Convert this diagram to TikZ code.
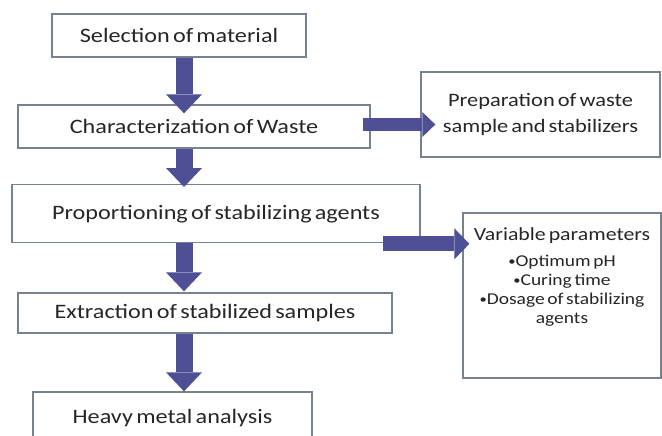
\documentclass[tikz,border=0pt]{standalone}
\usepackage{fontspec}
\usepackage{graphicx}
\setmainfont[FakeStretch=1.18,WordSpace=0.6]{Carlito}
\usetikzlibrary{arrows.meta,calc}
\definecolor{arrowc}{RGB}{78,79,148}
\definecolor{boxc}{RGB}{118,130,142}
\definecolor{txt}{RGB}{38,38,38}
\newcommand{\mainsz}{\fontsize{20.5}{24}\selectfont}
\newcommand{\sidesz}{\fontsize{19}{26}\selectfont}
\newcommand{\titlesz}{\fontsize{18.5}{20}\selectfont}
\newcommand{\itemsz}{\fontsize{16.5}{19}\selectfont}
\newcommand{\smbul}{\raisebox{0.05em}{\scalebox{0.75}{•}}}
\tikzset{
  box/.style={draw=boxc, line width=1.3pt, fill=white, inner sep=0pt, text=txt, align=center},
  varrow/.style={draw=arrowc, line width=17pt, -{Triangle[width=36pt,length=19pt,line width=0pt]}},
  harrowa/.style={draw=arrowc, line width=12pt, -{Triangle[width=25pt,length=13pt,line width=0pt]}},
  harrowb/.style={draw=arrowc, line width=15pt, -{Triangle[width=31pt,length=15pt,line width=0pt]}}
}
\begin{document}
\begin{tikzpicture}[x=1pt,y=-1pt]
\clip (0,0) rectangle (662,436);
\fill[white] (0,0) rectangle (662,436);
\node[box, minimum width=254pt, minimum height=43pt, font=\mainsz] (b1) at (179,35.5) {Selection of material};
\node[box, minimum width=352pt, minimum height=43pt, font=\mainsz] (b2) at (194,126.5) {Characterization of Waste};
\node[box, minimum width=408pt, text height=35pt, text depth=23pt, anchor=north, font=\mainsz] (b3) at (216,184) {Proportioning of stabilizing agents};
\node[box, minimum width=374pt, minimum height=40pt, font=\mainsz] (b4) at (205,313) {Extraction of stabilized samples};
\node[box, minimum width=279pt, minimum height=52pt, font=\mainsz] (b5) at (172.5,418) {Heavy metal analysis};
\node[box, minimum width=239pt, minimum height=85pt, font=\sidesz] (p) at (540.5,114.5) {Preparation of waste\\sample and stabilizers};
\node[box, minimum width=198pt, minimum height=165pt] (v) at (562,295.5) {};
\node[inner sep=0pt, anchor=north, align=center, text=txt, font=\itemsz] (vt) at (562,227) {{\titlesz Variable parameters}\\[7pt]\smbul Optimum pH\\\smbul Curing time\\\smbul Dosage of stabilizing\\agents};
\coordinate (ax) at (184,0);
\draw[varrow] (b1.south -| ax) -- ($(b2.north -| ax)+(0,9)$);
\draw[varrow] (b2.south -| ax) -- ($(b3.north -| ax)+(0,3)$);
\draw[varrow] (b3.south -| ax) -- ($(b4.north -| ax)+(0,-1)$);
\draw[varrow] (b4.south -| ax) -- (b5.north -| ax);
\draw[harrowa] ($(b2.east)+(-8,-2)$) -- ($(p.west |- b2.east)+(15,-2)$);
\draw[harrowb] ($(b3.south east)+(-38,0.5)$) -- ($(v.west |- b3.south east)+(7,0.5)$);
\end{tikzpicture}
\end{document}
